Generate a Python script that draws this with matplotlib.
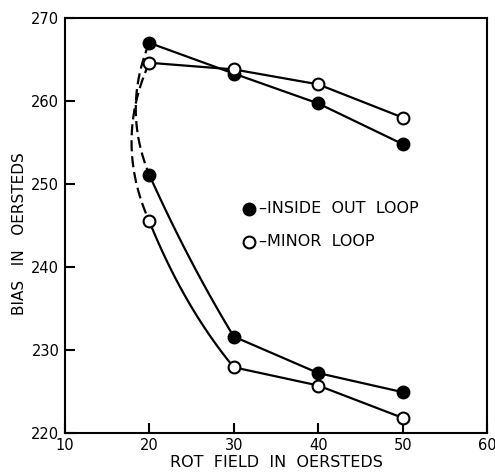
import numpy as np
import matplotlib
matplotlib.use("Agg")
import matplotlib.pyplot as plt

# Data
rot_field = [20, 30, 40, 50]
inside_upper = [267.0, 263.3, 259.7, 254.8]
inside_lower = [251.1, 231.6, 227.2, 224.9]
minor_upper = [264.6, 263.8, 262.0, 258.0]
minor_lower = [245.5, 227.9, 225.7, 221.8]
x_ticks = [10, 20, 30, 40, 50, 60]
y_ticks = [220, 230, 240, 250, 260, 270]
legend_labels = ["\u2013INSIDE  OUT  LOOP", "\u2013MINOR  LOOP"]

plt.rcParams['font.family'] = ['DejaVu Sans']

fig = plt.figure(figsize=(4.95, 4.73), dpi=100)
ax = fig.add_axes([0.131, 0.085, 0.853, 0.877])

lw = 1.6
ms = 8.5


def bezier(p0, p1, p2, n=60):
    t = np.linspace(0, 1, n)[:, None]
    p0, p1, p2 = map(np.asarray, (p0, p1, p2))
    pts = (1 - t) ** 2 * p0 + 2 * (1 - t) * t * p1 + t ** 2 * p2
    return pts[:, 0], pts[:, 1]


def draw_branch(xs, ys, filled, bend=0.0):
    mx = (xs[0] + xs[1]) / 2 - bend
    my = (ys[0] + ys[1]) / 2 - bend * 1.7
    bx, by = bezier((xs[0], ys[0]), (mx, my), (xs[1], ys[1]))
    ax.plot(bx, by, color='black', lw=lw, zorder=2)
    ax.plot(xs[1:], ys[1:], color='black', lw=lw, zorder=2)
    ax.plot(xs, ys, linestyle='none', marker='o', ms=ms,
            mfc='black' if filled else 'white', mec='black', mew=1.5, zorder=3)


draw_branch(rot_field, inside_upper, True)
draw_branch(rot_field, inside_lower, True, bend=0.4)
draw_branch(rot_field, minor_upper, False)
draw_branch(rot_field, minor_lower, False, bend=0.9)

# dashed connecting curves near x = 18
for up, lo, cx in [(inside_upper[0], inside_lower[0], 16.8),
                   (minor_upper[0], minor_lower[0], 15.8)]:
    bx, by = bezier((rot_field[0], up), (cx, (up + lo) / 2), (rot_field[0], lo))
    ax.plot(bx, by, color='black', lw=lw, linestyle=(0, (5, 2.2)), zorder=2)

# legend as text
ax.plot([31.8], [247.0], marker='o', ms=ms, mfc='black', mec='black', mew=1.5)
ax.plot([31.8], [243.0], marker='o', ms=ms, mfc='white', mec='black', mew=1.5)
ax.text(33.0, 247.0, legend_labels[0], va='center', ha='left', fontsize=11.5)
ax.text(33.0, 243.0, legend_labels[1], va='center', ha='left', fontsize=11.5)

ax.set_xlim(10, 60)
ax.set_ylim(220, 270)
ax.set_xticks(x_ticks)
ax.set_yticks(y_ticks)
ax.tick_params(direction='in', length=7, width=1.5, labelsize=10.5, pad=4)
for s in ax.spines.values():
    s.set_linewidth(1.5)
ax.set_xlabel("ROT  FIELD  IN  OERSTEDS", fontsize=11.5, labelpad=1)
ax.set_ylabel("BIAS   IN   OERSTEDS", fontsize=11, labelpad=5)
ax.yaxis.set_label_coords(-0.09, 0.48)

fig.savefig("out.png", dpi=100)
